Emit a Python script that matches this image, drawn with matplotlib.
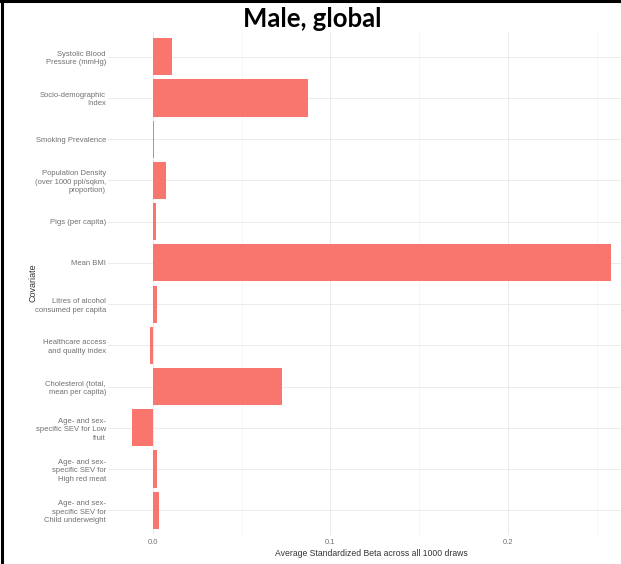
import numpy as np
import matplotlib
matplotlib.use('Agg')
import matplotlib.pyplot as plt
from matplotlib.lines import Line2D

# data, top to bottom as in the chart
covariates = [
    "Systolic Blood\nPressure (mmHg)",
    "Socio-demographic\nIndex",
    "Smoking Prevalence",
    "Population Density\n(over 1000 ppl/sqkm,\nproportion)",
    "Pigs (per capita)",
    "Mean BMI",
    "Litres of alcohol\nconsumed per capita",
    "Healthcare access\nand quality index",
    "Cholesterol (total,\nmean per capita)",
    "Age- and sex-\nspecific SEV for Low\nfruit",
    "Age- and sex-\nspecific SEV for\nHigh red meat",
    "Age- and sex-\nspecific SEV for\nChild underweight",
]
beta = [0.0107, 0.0873, 0.0005, 0.0072, 0.0017, 0.258,
        0.0022, -0.0017, 0.0727, -0.0118, 0.0025, 0.0032]
x_ticks = [0.0, 0.1, 0.2]
x_tick_labels = ["0.0", "0.1", "0.2"]
x_minor = [0.05, 0.15, 0.25]

W, H = 621, 564
fig = plt.figure(figsize=(W / 100, H / 100), dpi=100)

# ggplot-like 5% expansion of the x range
lo, hi = min(min(beta), 0), max(beta)
pad = 0.05 * (hi - lo)
xmin, xmax = lo - pad, hi + pad

px_per_unit = 1775.0
left_px, top_px, bottom_px = 108, 32, 535
ax = fig.add_axes([left_px / W, (H - bottom_px) / H,
                   px_per_unit * (xmax - xmin) / W, (bottom_px - top_px) / H])

ypos = np.arange(len(covariates))
ax.barh(ypos, beta, height=0.9, color='#F8766D', edgecolor='none', linewidth=0,
        zorder=3)

ax.set_xlim(xmin, xmax)
ax.set_ylim(len(covariates) - 0.4, -0.6)

ax.set_xticks(x_ticks)
ax.set_xticklabels(x_tick_labels)
ax.set_xticks(x_minor, minor=True)
ax.set_yticks(ypos)
ax.set_yticklabels(covariates, linespacing=1.3)

for lab in ax.get_yticklabels() + ax.get_xticklabels():
    lab.set_fontfamily('Liberation Sans')
    lab.set_fontsize(5.5)
    lab.set_color('#707070')

ax.tick_params(axis='both', which='both', length=0)
ax.tick_params(axis='y', pad=1.5)
ax.tick_params(axis='x', pad=3)

ax.grid(True, which='major', color='#ebebeb', lw=0.7, zorder=0)
ax.grid(True, which='minor', axis='x', color='#f3f3f3', lw=0.5, zorder=0)
for s in ax.spines.values():
    s.set_visible(False)

ax.set_xlabel("Average Standardized Beta across all 1000 draws",
              family='Liberation Sans', fontsize=6.2, color='#333333', labelpad=2)
fig.text(33 / W, 1 - 283 / H, "Covariate", rotation=90, ha='center', va='center',
         family='Liberation Sans', fontsize=6.5, color='#333333')

fig.text(312 / W, 1 - 19 / H, "Male, global", ha='center', va='center',
         family='Lato', fontweight='bold', fontsize=18.5, color='black')

# black frame on left and top
fig.add_artist(Line2D([1.5 / W, 1.5 / W], [0, 1], color='black', lw=2.2,
                      transform=fig.transFigure))
fig.add_artist(Line2D([0, 1], [1 - 1 / H, 1 - 1 / H], color='black', lw=2.2,
                      transform=fig.transFigure))

fig.savefig('out.png', dpi=100)
